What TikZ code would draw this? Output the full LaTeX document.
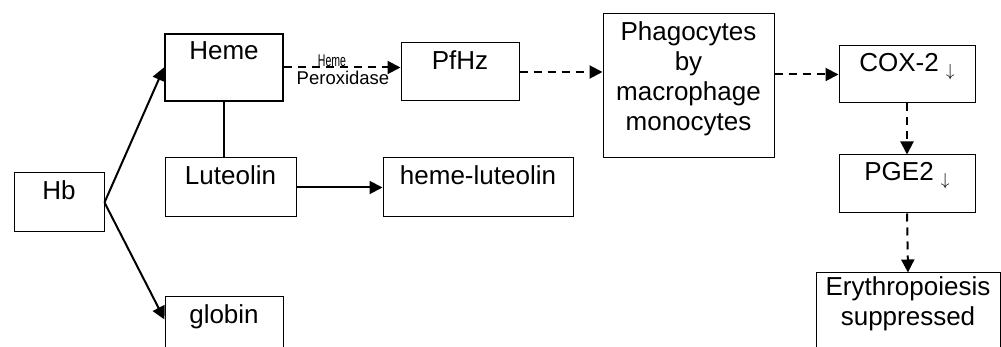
\documentclass[tikz,border=0pt]{standalone}
\usepackage{fontspec}
\setmainfont{Liberation Sans}
\usetikzlibrary{arrows.meta,calc}
\newcommand{\dnarrow}{\raisebox{-5pt}{\scalebox{0.7}{$\downarrow$}}}
\begin{document}
\begin{tikzpicture}[x=1pt,y=-1pt,
	box/.style={draw,line width=1pt,inner sep=0pt},
	txt/.style={anchor=north,inner sep=0pt,yshift=-8pt,align=center,font=\fontsize{26}{30}\selectfont},
	arr/.style={line width=2pt,-{Triangle[length=13pt,width=13pt]}},
	darr/.style={arr,dash pattern=on 8pt off 6pt}]
	\useasboundingbox (0,0) rectangle (1001,347);
	% boxes
	\node (hb) at (59,202.5) [box,minimum width=90pt,minimum height=59pt]{};
	\node (heme) at (224,67.5) [box,line width=2pt,minimum width=118pt,minimum height=67pt]{};
	\node (lut) at (230.5,187.5) [box,minimum width=131pt,minimum height=59pt]{};
	\node (globin) at (224,330) [box,minimum width=118pt,minimum height=66pt]{};
	\node (hl) at (478,187.5) [box,minimum width=190pt,minimum height=59pt]{};
	\node (pfhz) at (460,72) [box,minimum width=118pt,minimum height=58pt]{};
	\node (phago) at (688.5,86) [box,minimum width=171pt,minimum height=144pt]{};
	\node (cox) at (907,74.5) [box,minimum width=136pt,minimum height=57pt]{};
	\node (pge) at (907,184) [box,minimum width=136pt,minimum height=58pt]{};
	\node (ery) at (908,316.5) [box,minimum width=184pt,minimum height=87pt]{};
	% texts
	\node (hbtxt) at (hb.north) [txt]{Hb};
	\node (hemetxt) at (heme.north) [txt]{Heme};
	\node (luttxt) at (lut.north) [txt]{Luteolin};
	\node (globintxt) at (globin.north) [txt]{globin};
	\node (hltxt) at (hl.north) [txt]{heme-luteolin};
	\node (pfhztxt) at (pfhz.north) [txt]{PfHz};
	\node (phagotxt) at (phago.north) [txt]{Phagocytes\\by\\macrophage\\monocytes};
	\node (coxtxt) at (cox.north) [txt]{COX-2 \dnarrow};
	\node (pgetxt) at (pge.north) [txt]{PGE2 \dnarrow};
	\node (erytxt) at (ery.north) [txt,yshift=4pt]{Erythropoiesis\\suppressed};
	% connectors
	\draw[arr] (hb.east) -- (heme.west);
	\draw[arr] (hb.east) -- ($(globin.north west)+(0,23)$);
	\draw[line width=2pt] (heme.south) -- (heme.south |- lut.north);
	\draw[arr] (lut.east) -- (lut.east -| hl.west);
	\draw[darr] (heme.east) -- (heme.east -| pfhz.west);
	\node (enz) at (332,66.5) [anchor=base,inner sep=0pt,font=\fontsize{17}{19}\selectfont]{\scalebox{0.62}[1]{Heme}};
	\node (perox) at (343,85) [anchor=base,inner sep=0pt,font=\fontsize{18.5}{20}\selectfont]{Peroxidase};
	\draw[darr] (pfhz.east) -- (pfhz.east -| phago.west);
	\draw[darr] (phago.east |- cox.west) -- (cox.west);
	\draw[darr] (cox.south) -- (pge.north);
	\draw[darr] (pge.south) -- (ery.north);
\end{tikzpicture}
\end{document}
